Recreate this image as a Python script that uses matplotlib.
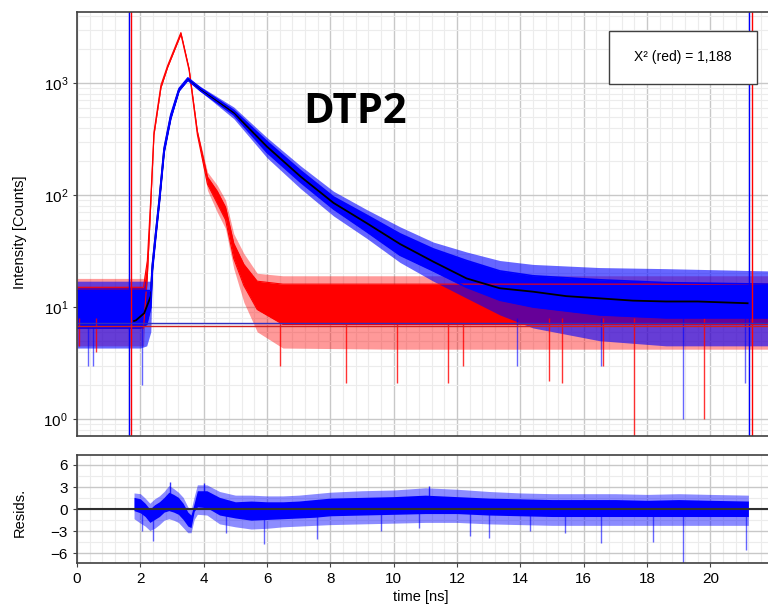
import matplotlib
matplotlib.use("Agg")
import matplotlib.pyplot as plt
from matplotlib.patches import Rectangle
from matplotlib.ticker import MultipleLocator, LogLocator, NullFormatter

plt.rcParams['font.family'] = ['Liberation Sans', 'DejaVu Sans']
plt.rcParams['mathtext.fontset'] = 'custom'
plt.rcParams['mathtext.rm'] = 'Liberation Sans'

# ---- data ----
# decay (blue): time [ns], dense band low/high, outer noise low/high  [counts]
dec_t = [0.0, 1.5, 2.0, 2.2, 2.33, 2.38, 2.49, 2.6, 2.75, 2.96, 3.22, 3.5, 3.9, 4.95,
         6.0, 7.06, 8.1, 9.15, 10.2, 11.25, 12.3, 13.35, 14.4, 16.5, 18.6, 21.82]
dec_lo = [6.5, 6.5, 6.5, 7.0, 10, 21, 43, 85, 240, 480, 850, 1060, 850, 520,
          240, 130, 75, 47, 29, 21, 15, 11.5, 10, 8.5, 8, 8]
dec_hi = [14, 14, 14, 14, 14, 24, 48, 94, 262, 520, 890, 1110, 900, 570,
          300, 165, 96, 66, 45, 33, 26, 21, 19, 17.5, 16.5, 16]
dec_olo = [4.3, 4.3, 4.3, 4.5, 6, 21, 43, 85, 240, 480, 850, 1060, 840, 480,
           215, 114, 65, 41, 25, 17, 12, 8.5, 6.5, 5, 4.5, 4.5]
dec_ohi = [17, 17, 17, 17, 17, 24, 48, 94, 262, 520, 890, 1110, 930, 610,
           325, 182, 108, 74, 52, 38, 31, 26, 24, 22.5, 22, 21]

# instrument response (red)
irf_t = [0.0, 2.1, 2.22, 2.33, 2.43, 2.65, 2.86, 3.28, 3.54, 3.8, 4.12, 4.43, 4.69,
         4.95, 5.27, 5.69, 6.5, 10.0, 15.0, 21.82]
irf_lo = [6.5, 6.5, 19, 85, 345, 910, 1380, 2720, 1290, 345, 125, 84, 60,
          27, 15.5, 9.5, 7, 7, 7, 7]
irf_hi = [15, 15, 26, 95, 365, 960, 1430, 2820, 1340, 370, 145, 108, 78,
          37, 24, 17, 16, 16, 16, 16]
irf_olo = [4.5, 4.5, 18, 85, 345, 910, 1380, 2720, 1290, 340, 110, 70, 50,
           22, 11, 6, 4.3, 4.2, 4.2, 4.2]
irf_ohi = [18, 18, 28, 95, 365, 960, 1430, 2820, 1340, 380, 160, 122, 90,
           45, 30, 20, 19, 19, 19, 19]

# single deep counts (spikes)
irf_spk_t = [0.05, 0.6, 6.4, 8.5, 10.1, 11.73, 12.18, 14.9, 15.3, 16.6, 17.6, 19.8]
irf_spk_v = [4.5, 4.0, 3.0, 2.1, 2.1, 2.1, 3.0, 2.2, 2.1, 3.0, 0.6, 1.0]
dec_spk_t = [0.35, 0.5, 2.04, 13.9, 16.55, 19.13, 21.1]
dec_spk_v = [3.0, 3.0, 2.0, 3.0, 3.0, 1.0, 2.1]

# fitted curve (black)
fit_t = [1.8, 1.86, 2.12, 2.33, 2.38, 2.49, 2.6, 2.75, 2.96, 3.22, 3.5, 3.9, 4.95, 6.0,
         7.06, 8.1, 9.15, 10.2, 11.25, 12.3, 13.35, 14.4, 15.45, 16.5, 17.55, 18.6,
         19.6, 21.18]
fit_v = [7.5, 7.6, 8.8, 12.5, 23, 46, 90, 252, 500, 870, 1080, 870, 540, 270,
         146, 85, 56, 36.5, 25.4, 18.0, 14.7, 13.7, 12.5, 11.95, 11.4, 11.2,
         11.2, 10.8]

# residuals
res_t = [1.8, 2.0, 2.15, 2.3, 2.45, 2.6, 2.75, 2.9, 3.05, 3.2, 3.35, 3.5, 3.6, 3.7,
         3.8, 4.1, 4.5, 5.0, 5.5, 6.0, 6.5, 7.0, 7.5, 8.0, 9.0, 10.0, 11.0, 12.0,
         13.0, 14.0, 15.0, 16.0, 17.0, 18.0, 19.0, 20.0, 21.2]
res_hi = [1.6, 1.4, 0.8, 0.0, 0.6, 1.0, 1.6, 2.3, 2.0, 1.6, 0.8, -0.4, -0.8, 0.8,
          2.5, 2.5, 1.6, 1.0, 1.1, 1.0, 1.0, 1.1, 1.3, 1.5, 1.6, 1.7, 1.9, 1.7,
          1.5, 1.4, 1.3, 1.3, 1.3, 1.2, 1.3, 1.2, 1.1]
res_lo = [-0.2, -0.5, -1.0, -1.8, -1.4, -1.0, -0.4, -0.2, -0.4, -0.7, -1.4, -2.3,
          -2.5, -0.3, 0.3, 0.2, -0.8, -1.2, -1.5, -1.4, -1.3, -1.2, -1.1, -0.9,
          -0.8, -0.7, -0.6, -0.6, -0.8, -0.9, -1.0, -1.0, -1.0, -1.0, -1.0, -1.0, -1.0]
res_ohi = [2.2, 2.1, 1.5, 0.8, 1.4, 1.8, 2.4, 3.2, 2.8, 2.3, 1.6, 0.3, -0.1, 1.7,
           3.3, 3.3, 2.4, 1.9, 1.9, 1.8, 1.8, 1.9, 2.1, 2.3, 2.5, 2.6, 2.9, 2.7,
           2.4, 2.2, 2.1, 2.1, 2.1, 2.0, 2.1, 2.0, 1.9]
res_olo = [-1.3, -1.9, -2.3, -2.9, -2.6, -2.1, -1.5, -1.3, -1.5, -1.8, -2.5, -3.2,
           -3.2, -1.4, -0.7, -0.8, -2.0, -2.4, -2.7, -2.6, -2.4, -2.3, -2.2, -2.1,
           -2.0, -1.9, -1.8, -1.8, -2.0, -2.1, -2.2, -2.2, -2.2, -2.2, -2.2, -2.2, -2.2]
res_spk_t = [2.05, 2.4, 4.7, 5.9, 7.58, 9.6, 10.8, 12.4, 13.0, 14.3, 15.4, 16.56,
             18.2, 19.13, 21.13]
res_spk_v = [-2.9, -4.3, -3.3, -4.7, -4.1, -3.0, -2.6, -3.6, -3.9, -3.0, -3.3, -4.6,
             -4.5, -7.5, -5.6]
res_up_t = [2.95, 4.0, 11.1]
res_up_v = [3.7, 3.5, 3.1]

# analysis range markers
cursor_blue = [1.63, 21.23]
cursor_red = [1.72, 21.33]
level_blue = 7.2
level_red = 6.8

BLUE = '#0000ff'
RED = '#ff0000'

fig = plt.figure(figsize=(7.68, 6.07), dpi=100)
ax = fig.add_axes([0.1003, 0.2817, 0.8997, 0.698])
axr = fig.add_axes([0.1003, 0.072, 0.8997, 0.1784], sharex=ax)


def style(a):
    a.grid(True, which='major', color='#c8c8c8', lw=1.0)
    a.grid(True, which='minor', color='#ececec', lw=0.8)
    a.set_axisbelow(True)
    for s in ['top', 'bottom', 'left']:
        a.spines[s].set_color('#404040')
        a.spines[s].set_linewidth(1.2)
    a.spines['right'].set_visible(False)
    a.tick_params(which='major', direction='out', length=3, color='#404040',
                  labelsize=11, right=False, top=False)
    a.tick_params(which='minor', length=0)


# ---- top panel ----
ax.set_yscale('log')
ax.fill_between(irf_t, irf_olo, irf_ohi, color=RED, alpha=0.4, lw=0)
ax.fill_between(irf_t, irf_lo, irf_hi, color=RED, lw=0)
ax.plot(irf_t, irf_lo, color=RED, lw=0.8)
ax.plot(irf_t, irf_hi, color=RED, lw=0.8)
ax.vlines(irf_spk_t, irf_spk_v, 8, color=RED, lw=1, alpha=0.8)

ax.fill_between(dec_t, dec_olo, dec_ohi, color=BLUE, alpha=0.6, lw=0)
ax.fill_between(dec_t, dec_lo, dec_hi, color=BLUE, lw=0)
ax.vlines(dec_spk_t, dec_spk_v, 8, color=BLUE, lw=1, alpha=0.6)

ax.plot(fit_t, fit_v, color='black', lw=1.3)
ax.plot(dec_t, dec_lo, color=BLUE, lw=1.2)
ax.plot(dec_t, dec_hi, color=BLUE, lw=1.2)

for xv in cursor_blue:
    ax.axvline(xv, color=BLUE, lw=1.0)
for xv in cursor_red:
    ax.axvline(xv, color=RED, lw=1.0)
ax.axhline(level_blue, color='#3030c0', lw=1.0)
ax.axhline(level_red, color='#d02020', lw=1.0)

ax.set_xlim(0, 21.82)
ax.set_ylim(0.705, 4275)
ax.xaxis.set_major_locator(MultipleLocator(2))
ax.xaxis.set_minor_locator(MultipleLocator(0.4))
ax.yaxis.set_minor_locator(LogLocator(base=10, subs=range(2, 10), numticks=20))
ax.yaxis.set_minor_formatter(NullFormatter())
ax.set_yticks([1, 10, 100, 1000])
ax.set_yticklabels([r'$\mathregular{10^{0}}$', r'$\mathregular{10^{1}}$',
                    r'$\mathregular{10^{2}}$', r'$\mathregular{10^{3}}$'])
style(ax)
ax.tick_params(axis='x', labelbottom=False, length=0)

ax.text(0.402, 0.764, 'DTP2', transform=ax.transAxes, ha='center', va='center',
        fontsize=30, fontweight='bold', family=['Open Sans', 'DejaVu Sans'])

fig.patches.append(Rectangle((0.793, 0.8616), 0.1927, 0.0873, transform=fig.transFigure,
                             facecolor='white', edgecolor='#404040', lw=1.0, zorder=5))
fig.text(0.889, 0.9053, 'X² (red) = 1,188', ha='center', va='center', fontsize=10,
         zorder=6)

# ---- residuals ----
axr.fill_between(res_t, res_olo, res_ohi, color=BLUE, alpha=0.45, lw=0)
axr.fill_between(res_t, res_lo, res_hi, color=BLUE, lw=0)
axr.vlines(res_spk_t, res_spk_v, 0, color=BLUE, lw=1, alpha=0.6)
axr.vlines(res_up_t, 0, res_up_v, color=BLUE, lw=1, alpha=0.8)
axr.axhline(0, color='#303030', lw=1.5)
axr.set_ylim(-7.35, 7.35)
axr.yaxis.set_major_locator(MultipleLocator(3))
axr.yaxis.set_minor_locator(MultipleLocator(1.5))
axr.set_xticks(range(0, 21, 2))
style(axr)

fig.text(0.026, 0.618, 'Intensity [Counts]', rotation=90, ha='center', va='center',
         fontsize=10.5)
fig.text(0.026, 0.155, 'Resids.', rotation=90, ha='center', va='center', fontsize=10.5)
fig.text(0.548, 0.016, 'time [ns]', ha='center', va='center', fontsize=10.5)

fig.savefig('out.png', dpi=100)
